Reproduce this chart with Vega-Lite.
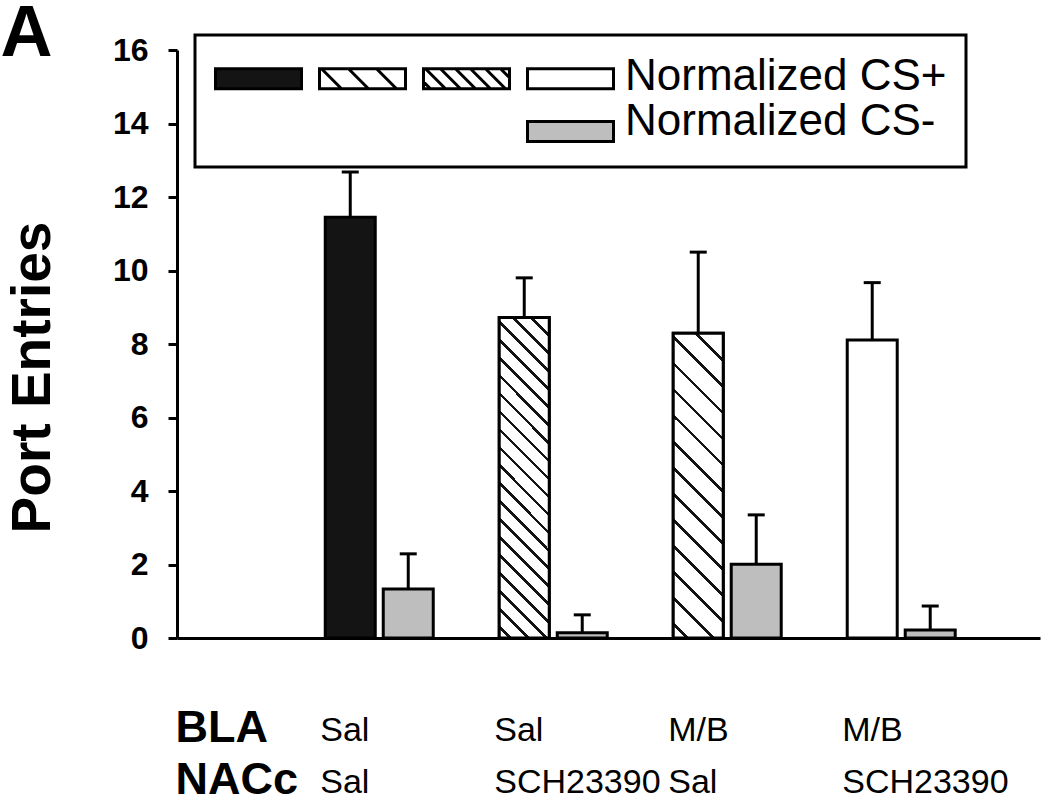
{
  "$schema": "https://vega.github.io/schema/vega-lite/v6.json",
  "width": 863,
  "height": 588,
  "autosize": {"type": "none"},
  "padding": {"left": 177, "top": 50, "right": 10, "bottom": 162},
  "background": "white",
  "config": {"view": {"stroke": null}, "font": "Liberation Sans", "legend": {"strokeWidth": 3}},
  "datasets": {
    "bars": [
      {"group": "Sal | Sal", "cs": "CS+", "type": "Sal-Sal", "value": 11.45, "upper": 12.68},
      {"group": "Sal | Sal", "cs": "CS-", "type": "CS-", "value": 1.33, "upper": 2.29},
      {"group": "Sal | SCH23390", "cs": "CS+", "type": "Sal-SCH23390", "value": 8.72, "upper": 9.8},
      {"group": "Sal | SCH23390", "cs": "CS-", "type": "CS-", "value": 0.14, "upper": 0.63},
      {"group": "M/B | Sal", "cs": "CS+", "type": "MB-Sal", "value": 8.29, "upper": 10.5},
      {"group": "M/B | Sal", "cs": "CS-", "type": "CS-", "value": 2.01, "upper": 3.35},
      {"group": "M/B | SCH23390", "cs": "CS+", "type": "MB-SCH23390", "value": 8.11, "upper": 9.67},
      {"group": "M/B | SCH23390", "cs": "CS-", "type": "CS-", "value": 0.22, "upper": 0.87}
    ],
    "labels": [
      {"group": "Sal | Sal", "region": "BLA", "label": "Sal"},
      {"group": "Sal | Sal", "region": "NACc", "label": "Sal"},
      {"group": "Sal | SCH23390", "region": "BLA", "label": "Sal"},
      {"group": "Sal | SCH23390", "region": "NACc", "label": "SCH23390"},
      {"group": "M/B | Sal", "region": "BLA", "label": "M/B"},
      {"group": "M/B | Sal", "region": "NACc", "label": "Sal"},
      {"group": "M/B | SCH23390", "region": "BLA", "label": "M/B"},
      {"group": "M/B | SCH23390", "region": "NACc", "label": "SCH23390"}
    ]
  },
  "layer": [
    {
      "data": {"name": "bars"},
      "layer": [
        {
          "mark": {"type": "bar", "strokeWidth": 3},
          "encoding": {
            "x": {"field": "group", "type": "nominal", "scale": {"domain": ["Sal | Sal", "Sal | SCH23390", "M/B | Sal", "M/B | SCH23390"], "paddingInner": 0, "paddingOuter": 0.48, "align": 0.69},
              "axis": {"labels": false, "ticks": false, "domain": true, "domainColor": "black", "domainWidth": 3, "title": null, "grid": false}},
            "xOffset": {"field": "cs", "type": "nominal", "scale": {"domain": ["CS+", "CS-"], "paddingInner": 0.138, "paddingOuter": 0.569}},
            "y": {"field": "value", "type": "quantitative", "scale": {"domain": [0, 16], "nice": false},
              "axis": {"orient": "left", "values": [0, 2, 4, 6, 8, 10, 12, 14, 16], "grid": false, "domainColor": "black", "domainWidth": 3, "tickColor": "black", "tickWidth": 3, "tickSize": 9, "labelFont": "Liberation Sans", "labelFontSize": 32, "labelFontWeight": "bold", "labelColor": "black", "labelPadding": 20, "title": "Port Entries", "titleFont": "Liberation Sans", "titleFontSize": 55, "titleFontWeight": "bold", "titleColor": "black", "titlePadding": 51, "titleY": 327}},
            "fill": {
              "field": "type", "type": "nominal",
              "scale": {"domain": ["Sal-Sal", "MB-Sal", "Sal-SCH23390", "MB-SCH23390", "pad1", "pad2", "pad3", "CS-"], "range": ["#141414", "white", "white", "white", "transparent", "transparent", "transparent", "#bebebe"]},
              "legend": {"orient": "none", "legendX": 18, "legendY": -15, "columns": 4, "title": null, "direction": "horizontal", "symbolSize": 7396, "symbolStrokeWidth": 3, "symbolOpacity": 1, "symbolFillColor": "white", "symbolStrokeColor": "black", "labelFont": "Liberation Sans", "labelFontSize": 44, "labelColor": "black", "labelOffset": 10, "labelLimit": 600, "labelBaseline": "bottom", "columnPadding": 0, "rowPadding": 0, "padding": 19, "strokeColor": "black", "labelExpr": "datum.value === 'MB-SCH23390' ? 'Normalized CS+' : datum.value === 'CS-' ? 'Normalized CS-' : ''", "encode": {"legend": {"strokeWidth": {"value": 3}}}}
            },
            "stroke": {
              "field": "type", "type": "nominal",
              "scale": {"domain": ["Sal-Sal", "MB-Sal", "Sal-SCH23390", "MB-SCH23390", "pad1", "pad2", "pad3", "CS-"], "range": ["black", "black", "black", "black", "transparent", "transparent", "transparent", "black"]},
              "legend": {"orient": "none", "legendX": 18, "legendY": -15, "columns": 4, "title": null, "direction": "horizontal", "symbolSize": 7396, "symbolStrokeWidth": 3, "symbolOpacity": 1, "symbolFillColor": "white", "symbolStrokeColor": "black", "labelFont": "Liberation Sans", "labelFontSize": 44, "labelColor": "black", "labelOffset": 10, "labelLimit": 600, "labelBaseline": "bottom", "columnPadding": 0, "rowPadding": 0, "padding": 19, "strokeColor": "black", "labelExpr": "datum.value === 'MB-SCH23390' ? 'Normalized CS+' : datum.value === 'CS-' ? 'Normalized CS-' : ''", "encode": {"legend": {"strokeWidth": {"value": 3}}}}
            }
          }
        },
        {
          "mark": {"type": "point", "filled": true, "opacity": 0},
          "encoding": {
            "x": {"field": "group", "type": "nominal", "scale": {"domain": ["Sal | Sal", "Sal | SCH23390", "M/B | Sal", "M/B | SCH23390"]}},
            "xOffset": {"field": "cs", "type": "nominal", "scale": {"domain": ["CS+", "CS-"]}},
            "y": {"field": "value", "type": "quantitative"},
            "fill": {"field": "type", "type": "nominal"},
            "stroke": {"field": "type", "type": "nominal"},
            "shape": {
              "field": "type", "type": "nominal",
              "scale": {"domain": ["Sal-Sal", "MB-Sal", "Sal-SCH23390", "MB-SCH23390", "pad1", "pad2", "pad3", "CS-"], "range": [
                "M-1,-0.698H1V-0.233H-1Z",
                "M-1,-0.698H1V-0.233H-1Z M-0.953,-0.698L-0.488,-0.233 M-0.326,-0.698L0.139,-0.233 M0.326,-0.698L0.791,-0.233",
                "M-1,-0.698H1V-0.233H-1Z M-1,-0.396L-0.837,-0.233 M-0.953,-0.698L-0.488,-0.233 M-0.605,-0.698L-0.14,-0.233 M-0.256,-0.698L0.209,-0.233 M0.093,-0.698L0.558,-0.233 M0.442,-0.698L0.907,-0.233 M0.791,-0.698L1,-0.489",
                "M-1,-0.698H1V-0.233H-1Z",
                "M-1,-0.698H1V-0.233H-1Z",
                "M-1,-0.698H1V-0.233H-1Z",
                "M-1,-0.698H1V-0.233H-1Z",
                "M-1,-0.512H1V-0.047H-1Z"]},
              "legend": {"orient": "none", "legendX": 18, "legendY": -15, "columns": 4, "title": null, "direction": "horizontal", "symbolSize": 7396, "symbolStrokeWidth": 3, "symbolOpacity": 1, "symbolFillColor": "white", "symbolStrokeColor": "black", "labelFont": "Liberation Sans", "labelFontSize": 44, "labelColor": "black", "labelOffset": 10, "labelLimit": 600, "labelBaseline": "bottom", "columnPadding": 0, "rowPadding": 0, "padding": 19, "strokeColor": "black", "labelExpr": "datum.value === 'MB-SCH23390' ? 'Normalized CS+' : datum.value === 'CS-' ? 'Normalized CS-' : ''", "encode": {"legend": {"strokeWidth": {"value": 3}}}}
            }
          }
        },
        {
          "transform": [{"filter": "datum.type === 'Sal-SCH23390'"}],
          "mark": {"type": "bar", "stroke": "black", "strokeWidth": 3, "fill": {"gradient": "linear", "x1": 0, "y1": 1, "x2": 0.1764, "y2": -0.1287, "stops": [
            {"offset": 0, "color": "white"},
            {"offset": 0.0248, "color": "white"}, {"offset": 0.0248, "color": "#141414"}, {"offset": 0.0352, "color": "#141414"}, {"offset": 0.0352, "color": "white"},
            {"offset": 0.0733, "color": "white"}, {"offset": 0.0733, "color": "#141414"}, {"offset": 0.0837, "color": "#141414"}, {"offset": 0.0837, "color": "white"},
            {"offset": 0.1218, "color": "white"}, {"offset": 0.1218, "color": "#141414"}, {"offset": 0.1322, "color": "#141414"}, {"offset": 0.1322, "color": "white"},
            {"offset": 0.1703, "color": "white"}, {"offset": 0.1703, "color": "#141414"}, {"offset": 0.1807, "color": "#141414"}, {"offset": 0.1807, "color": "white"},
            {"offset": 0.2188, "color": "white"}, {"offset": 0.2188, "color": "#141414"}, {"offset": 0.2292, "color": "#141414"}, {"offset": 0.2292, "color": "white"},
            {"offset": 0.2673, "color": "white"}, {"offset": 0.2673, "color": "#141414"}, {"offset": 0.2777, "color": "#141414"}, {"offset": 0.2777, "color": "white"},
            {"offset": 0.3158, "color": "white"}, {"offset": 0.3158, "color": "#141414"}, {"offset": 0.3262, "color": "#141414"}, {"offset": 0.3262, "color": "white"},
            {"offset": 0.3643, "color": "white"}, {"offset": 0.3643, "color": "#141414"}, {"offset": 0.3747, "color": "#141414"}, {"offset": 0.3747, "color": "white"},
            {"offset": 0.4128, "color": "white"}, {"offset": 0.4128, "color": "#141414"}, {"offset": 0.4232, "color": "#141414"}, {"offset": 0.4232, "color": "white"},
            {"offset": 0.4613, "color": "white"}, {"offset": 0.4613, "color": "#141414"}, {"offset": 0.4717, "color": "#141414"}, {"offset": 0.4717, "color": "white"},
            {"offset": 0.5098, "color": "white"}, {"offset": 0.5098, "color": "#141414"}, {"offset": 0.5202, "color": "#141414"}, {"offset": 0.5202, "color": "white"},
            {"offset": 0.5583, "color": "white"}, {"offset": 0.5583, "color": "#141414"}, {"offset": 0.5687, "color": "#141414"}, {"offset": 0.5687, "color": "white"},
            {"offset": 0.6068, "color": "white"}, {"offset": 0.6068, "color": "#141414"}, {"offset": 0.6172, "color": "#141414"}, {"offset": 0.6172, "color": "white"},
            {"offset": 0.6553, "color": "white"}, {"offset": 0.6553, "color": "#141414"}, {"offset": 0.6657, "color": "#141414"}, {"offset": 0.6657, "color": "white"},
            {"offset": 0.7038, "color": "white"}, {"offset": 0.7038, "color": "#141414"}, {"offset": 0.7142, "color": "#141414"}, {"offset": 0.7142, "color": "white"},
            {"offset": 0.7523, "color": "white"}, {"offset": 0.7523, "color": "#141414"}, {"offset": 0.7627, "color": "#141414"}, {"offset": 0.7627, "color": "white"},
            {"offset": 0.8008, "color": "white"}, {"offset": 0.8008, "color": "#141414"}, {"offset": 0.8112, "color": "#141414"}, {"offset": 0.8112, "color": "white"},
            {"offset": 0.8493, "color": "white"}, {"offset": 0.8493, "color": "#141414"}, {"offset": 0.8597, "color": "#141414"}, {"offset": 0.8597, "color": "white"},
            {"offset": 0.8978, "color": "white"}, {"offset": 0.8978, "color": "#141414"}, {"offset": 0.9082, "color": "#141414"}, {"offset": 0.9082, "color": "white"},
            {"offset": 0.9463, "color": "white"}, {"offset": 0.9463, "color": "#141414"}, {"offset": 0.9567, "color": "#141414"}, {"offset": 0.9567, "color": "white"},
            {"offset": 1, "color": "white"}
          ]}},
          "encoding": {
            "x": {"field": "group", "type": "nominal", "scale": {"domain": ["Sal | Sal", "Sal | SCH23390", "M/B | Sal", "M/B | SCH23390"]}},
            "xOffset": {"field": "cs", "type": "nominal", "scale": {"domain": ["CS+", "CS-"]}},
            "y": {"field": "value", "type": "quantitative"}
          }
        },
        {
          "transform": [{"filter": "datum.type === 'MB-Sal'"}],
          "mark": {"type": "bar", "stroke": "black", "strokeWidth": 3, "fill": {"gradient": "linear", "x1": 0, "y1": 1, "x2": 0.1858, "y2": -0.1334, "stops": [
            {"offset": 0, "color": "white"},
            {"offset": 0.0346, "color": "white"}, {"offset": 0.0346, "color": "#141414"}, {"offset": 0.0454, "color": "#141414"}, {"offset": 0.0454, "color": "white"},
            {"offset": 0.1081, "color": "white"}, {"offset": 0.1081, "color": "#141414"}, {"offset": 0.1189, "color": "#141414"}, {"offset": 0.1189, "color": "white"},
            {"offset": 0.1816, "color": "white"}, {"offset": 0.1816, "color": "#141414"}, {"offset": 0.1924, "color": "#141414"}, {"offset": 0.1924, "color": "white"},
            {"offset": 0.2551, "color": "white"}, {"offset": 0.2551, "color": "#141414"}, {"offset": 0.2659, "color": "#141414"}, {"offset": 0.2659, "color": "white"},
            {"offset": 0.3286, "color": "white"}, {"offset": 0.3286, "color": "#141414"}, {"offset": 0.3394, "color": "#141414"}, {"offset": 0.3394, "color": "white"},
            {"offset": 0.4021, "color": "white"}, {"offset": 0.4021, "color": "#141414"}, {"offset": 0.4129, "color": "#141414"}, {"offset": 0.4129, "color": "white"},
            {"offset": 0.4756, "color": "white"}, {"offset": 0.4756, "color": "#141414"}, {"offset": 0.4864, "color": "#141414"}, {"offset": 0.4864, "color": "white"},
            {"offset": 0.5491, "color": "white"}, {"offset": 0.5491, "color": "#141414"}, {"offset": 0.5599, "color": "#141414"}, {"offset": 0.5599, "color": "white"},
            {"offset": 0.6226, "color": "white"}, {"offset": 0.6226, "color": "#141414"}, {"offset": 0.6334, "color": "#141414"}, {"offset": 0.6334, "color": "white"},
            {"offset": 0.6961, "color": "white"}, {"offset": 0.6961, "color": "#141414"}, {"offset": 0.7069, "color": "#141414"}, {"offset": 0.7069, "color": "white"},
            {"offset": 0.7696, "color": "white"}, {"offset": 0.7696, "color": "#141414"}, {"offset": 0.7804, "color": "#141414"}, {"offset": 0.7804, "color": "white"},
            {"offset": 0.8431, "color": "white"}, {"offset": 0.8431, "color": "#141414"}, {"offset": 0.8539, "color": "#141414"}, {"offset": 0.8539, "color": "white"},
            {"offset": 0.9166, "color": "white"}, {"offset": 0.9166, "color": "#141414"}, {"offset": 0.9274, "color": "#141414"}, {"offset": 0.9274, "color": "white"},
            {"offset": 1, "color": "white"}
          ]}},
          "encoding": {
            "x": {"field": "group", "type": "nominal", "scale": {"domain": ["Sal | Sal", "Sal | SCH23390", "M/B | Sal", "M/B | SCH23390"]}},
            "xOffset": {"field": "cs", "type": "nominal", "scale": {"domain": ["CS+", "CS-"]}},
            "y": {"field": "value", "type": "quantitative"}
          }
        },
        {
          "mark": {"type": "rule", "color": "black", "strokeWidth": 3},
          "encoding": {
            "x": {"field": "group", "type": "nominal", "scale": {"domain": ["Sal | Sal", "Sal | SCH23390", "M/B | Sal", "M/B | SCH23390"]}},
            "xOffset": {"field": "cs", "type": "nominal", "scale": {"domain": ["CS+", "CS-"]}},
            "y": {"field": "value", "type": "quantitative"},
            "y2": {"field": "upper"}
          }
        },
        {
          "mark": {"type": "tick", "color": "black", "opacity": 1, "size": 17, "thickness": 3, "orient": "horizontal"},
          "encoding": {
            "x": {"field": "group", "type": "nominal", "scale": {"domain": ["Sal | Sal", "Sal | SCH23390", "M/B | Sal", "M/B | SCH23390"]}},
            "xOffset": {"field": "cs", "type": "nominal", "scale": {"domain": ["CS+", "CS-"]}},
            "y": {"field": "upper", "type": "quantitative"}
          }
        }
      ]
    },
    {
      "data": {"name": "labels"},
      "mark": {"type": "text", "align": "left", "baseline": "alphabetic", "dx": 28, "font": "Liberation Sans", "fontSize": 34, "color": "black"},
      "encoding": {
        "x": {"field": "group", "type": "nominal", "bandPosition": 0, "scale": {"domain": ["Sal | Sal", "Sal | SCH23390", "M/B | Sal", "M/B | SCH23390"]}},
        "y": {"field": "region", "type": "nominal", "scale": {"type": "point", "domain": ["BLA", "NACc"], "range": [691, 743], "padding": 0},
          "axis": {"orient": "left", "domain": false, "ticks": false, "tickSize": 0, "grid": false, "labelAlign": "left", "labelBaseline": "alphabetic", "labelPadding": 2, "labelFont": "Liberation Sans", "labelFontSize": 45, "labelFontWeight": "bold", "labelColor": "black", "labelOverlap": false,
            "title": "A", "titleX": -177, "titleY": 5, "titleAngle": 0, "titleAlign": "left", "titleBaseline": "alphabetic", "titleFont": "Liberation Sans", "titleFontSize": 72, "titleFontWeight": "bold", "titleColor": "black"}},
        "text": {"field": "label", "type": "nominal"}
      }
    }
  ],
  "resolve": {"scale": {"y": "independent"}, "axis": {"y": "independent"}}
}
